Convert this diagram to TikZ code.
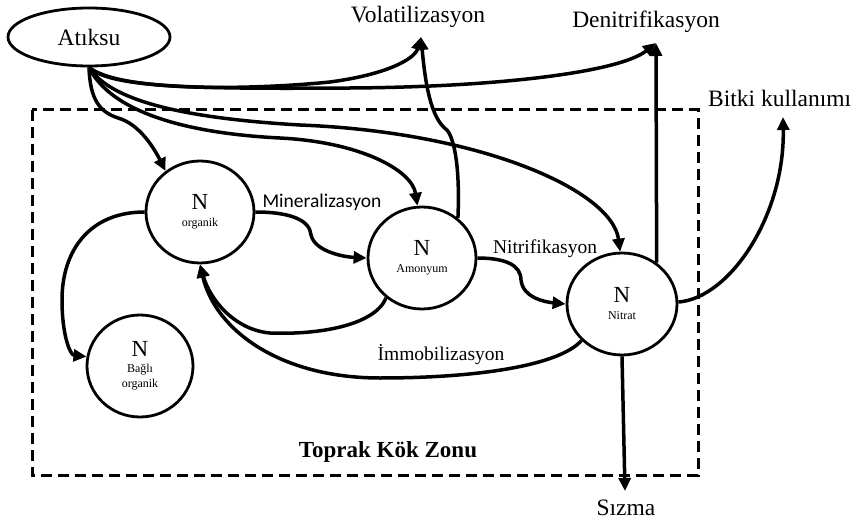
\documentclass[tikz,border=0pt]{standalone}
\usepackage{fontspec}
\setmainfont{Liberation Serif}
\newfontfamily\calib{Carlito}
\usetikzlibrary{arrows.meta,shapes.geometric}
\newcommand{\bigN}{\fontsize{23}{23}\selectfont N}
\newcommand{\subt}{\fontsize{12}{14}\selectfont}
\begin{document}
\begin{tikzpicture}[x=1pt,y=-1pt,
  pool/.style={draw,ellipse,line width=2.8pt,minimum width=108pt,minimum height=102pt,inner sep=0pt,align=center,fill=white},
  flow/.style={line width=3.5pt,-{Triangle[length=13pt,width=12pt]}},
  big/.style={font=\fontsize{23.5}{26}\selectfont,inner sep=0pt},
  mid/.style={font=\fontsize{19.5}{22}\selectfont,inner sep=0pt},
  zone/.style={line width=3pt,dash pattern=on 11pt off 6pt}]
\useasboundingbox (0,0) rectangle (857,524);
% zone
\draw[zone] (32,110) rectangle (698,475);
% nodes
\node[draw,ellipse,line width=2.8pt,minimum width=162pt,minimum height=58pt,inner sep=0pt,big] (atk) at (89,37) {Atıksu};
\node[pool] (org) at (200,212) {\bigN\\[5pt]\subt organik};
\node[pool] (amo) at (422,258) {\bigN\\[5pt]\subt Amonyum};
\node[pool,minimum width=110pt] (nit) at (622,304) {\bigN\\[5pt]\subt Nitrat};
\node[pool,minimum width=106pt] (bag) at (140,366) {\bigN\\[4pt]\subt Bağlı\\[3pt]\subt organik};
\node[big] (vol) at (418,17) {Volatilizasyon};
\node[big] (den) at (646,22) {Denitrifikasyon};
\node[big,anchor=west] (bit) at (708,98) {Bitki kullanımı};
\node[big] (siz) at (626,508) {Sızma};
\node[big,font=\fontsize{23}{26}\selectfont\bfseries] (zon) at (388,452) {Toprak Kök Zonu};
\node[font=\fontsize{19.5}{22}\selectfont\calib,inner sep=0pt] (min) at (322,202) {Mineralizasyon};
\node[mid] (nif) at (545,249) {Nitrifikasyon};
\node[mid] (imm) at (441,355) {İmmobilizasyon};
% free ends
\coordinate (volT) at (421,37);
\coordinate (denT) at (656,43);
\coordinate (bitT) at (783,117);
\coordinate (sizT) at (625,491);
% connectors from Atiksu
\draw[flow] (atk.south) .. controls (90,100) and (100,112) .. (118,118) .. controls (140,124) and (155,150) .. (org.130);
\draw[flow] (atk.south) .. controls (120,92) and (250,90) .. (330,82) .. controls (390,74) and (415,58) .. (volT);
\draw[flow] (atk.south) .. controls (110,88) and (200,89) .. (350,88) .. controls (500,87) and (620,72) .. (denT);
\draw[flow] (atk.south) .. controls (110,110) and (180,133) .. (280,138) .. controls (360,142) and (412,170) .. (amo.95);
\draw[flow] (atk.south) .. controls (110,100) and (180,118) .. (300,125) .. controls (480,132) and (612,190) .. (nit.92);
% Amonyum -> Volatilizasyon
\draw[flow] (amo.48) .. controls (460,170) and (455,140) .. (447,130) .. controls (430,118) and (425,80) .. (volT);
% Nitrat outputs
\draw[flow] (nit.50) -- (denT);
\draw[flow] (nit.2) .. controls (730,298) and (785,215) .. (bitT);
\draw[flow] (nit.south) -- (sizT);
% transformations
\draw[flow] (org.east) .. controls (290,212) and (310,220) .. (311,235) .. controls (315,252) and (345,257) .. (amo.west);
\draw[flow] (amo.east) .. controls (505,258) and (521,265) .. (521,280) .. controls (523,298) and (545,302) .. (nit.west);
\draw[flow] (amo.228) .. controls (375,325) and (320,335) .. (270,333) .. controls (235,330) and (210,300) .. (org.south);
\draw[flow] (nit.222) .. controls (560,365) and (480,378) .. (380,378) .. controls (280,378) and (215,330) .. (org.south);
\draw[flow] (org.west) .. controls (90,212) and (62,250) .. (62,300) .. controls (62,335) and (70,355) .. (bag.170);
\end{tikzpicture}
\end{document}
